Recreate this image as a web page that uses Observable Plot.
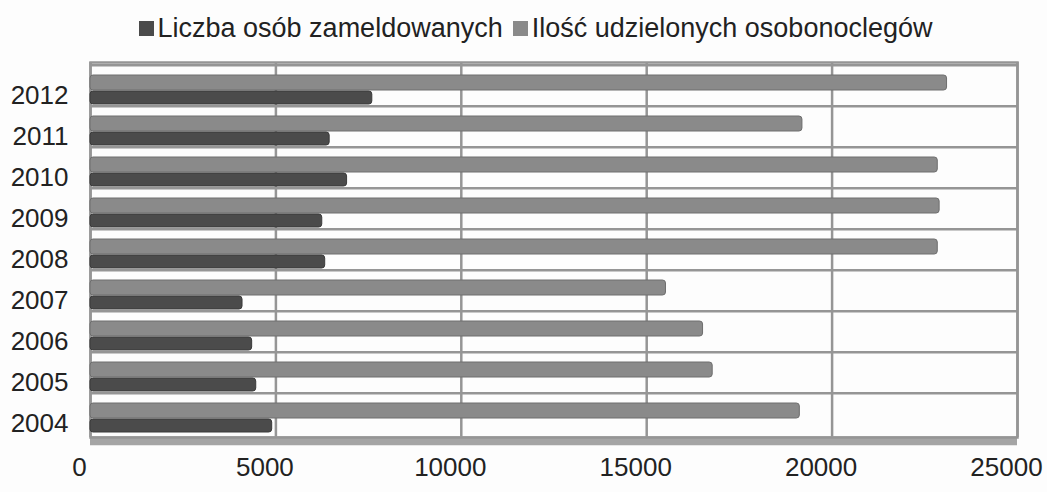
<!DOCTYPE html>
<html><head><meta charset="utf-8">
<script src="https://cdn.jsdelivr.net/npm/d3@7"></script>
<script src="https://cdn.jsdelivr.net/npm/@observablehq/plot@0.6"></script>
<style>
body{margin:0;background:#fdfdfd;font-family:"Liberation Sans",Arial,sans-serif;}
#legend{height:57px;display:flex;justify-content:center;align-items:center;font-size:27px;color:#222;padding-left:24px;}
.item{display:flex;align-items:center;margin:0 5px;}
.sw{display:inline-block;width:15px;height:15px;margin-right:4px;}
</style></head>
<body>
<div id="legend"></div>
<div id="chart"></div>
<script>
const years = ["2004","2005","2006","2007","2008","2009","2010","2011","2012"];
const seriesNames = ["Liczba osób zameldowanych", "Ilość udzielonych osobonoclegów"];
const seriesColors = ["#4b4b4b", "#8a8a8a"];
const zameldowani = [4900, 4470, 4360, 4100, 6330, 6250, 6920, 6450, 7600];
const osobonoclegi = [19130, 16780, 16520, 15520, 22850, 22900, 22850, 19200, 23100];
const xTicks = [0, 5000, 10000, 15000, 20000, 25000];

const legend = document.getElementById("legend");
seriesNames.forEach((n, i) => {
  const it = document.createElement("span"); it.className = "item";
  const sw = document.createElement("span"); sw.className = "sw"; sw.style.background = seriesColors[i];
  it.appendChild(sw); it.appendChild(document.createTextNode(n));
  legend.appendChild(it);
});

const dataZ = years.map((y, i) => ({year: y, value: zameldowani[i]}));
const dataO = years.map((y, i) => ({year: y, value: osobonoclegi[i]}));
const grid = "#959595";
const H = 435, mt = 5, mb = 55;
const bw = (H - mt - mb) / years.length;

const chart = Plot.plot({
  width: 1047,
  height: H,
  marginTop: mt,
  marginBottom: mb,
  marginLeft: 90,
  marginRight: 30,
  style: {fontFamily: "'Liberation Sans', Arial, sans-serif", background: "transparent", color: "#222"},
  x: {domain: [0, 25000]},
  y: {type: "band", domain: years.slice().reverse(), padding: 0},
  marks: [
    Plot.ruleX(xTicks, {stroke: grid, strokeWidth: 2.5}),
    Plot.ruleY(years, {y: d => d, dy: -bw / 2, stroke: grid, strokeWidth: 2.5}),
    Plot.ruleY(years.slice(0, 1), {y: d => d, dy: bw / 2 + 6, stroke: "#a5a5a5", strokeWidth: 9}),
    Plot.frame({stroke: grid, strokeWidth: 2.5}),
    Plot.barX(dataO, {x: "value", y: "year", fill: seriesColors[1], stroke: "#6e6e6e", strokeWidth: 1, insetTop: 10, insetBottom: 16, rx: 3}),
    Plot.barX(dataZ, {x: "value", y: "year", fill: seriesColors[0], stroke: "#3a3a3a", strokeWidth: 1, insetTop: 26, insetBottom: 2, rx: 3}),
    Plot.axisY({tickSize: 0, tickPadding: 22, fontSize: 26, dy: 10, label: null}),
    Plot.axisX({ticks: xTicks, tickSize: 0, tickPadding: 20, fontSize: 26, dx: -11, tickFormat: d => String(d), label: null})
  ]
});
document.getElementById("chart").appendChild(chart);
</script>
</body></html>
